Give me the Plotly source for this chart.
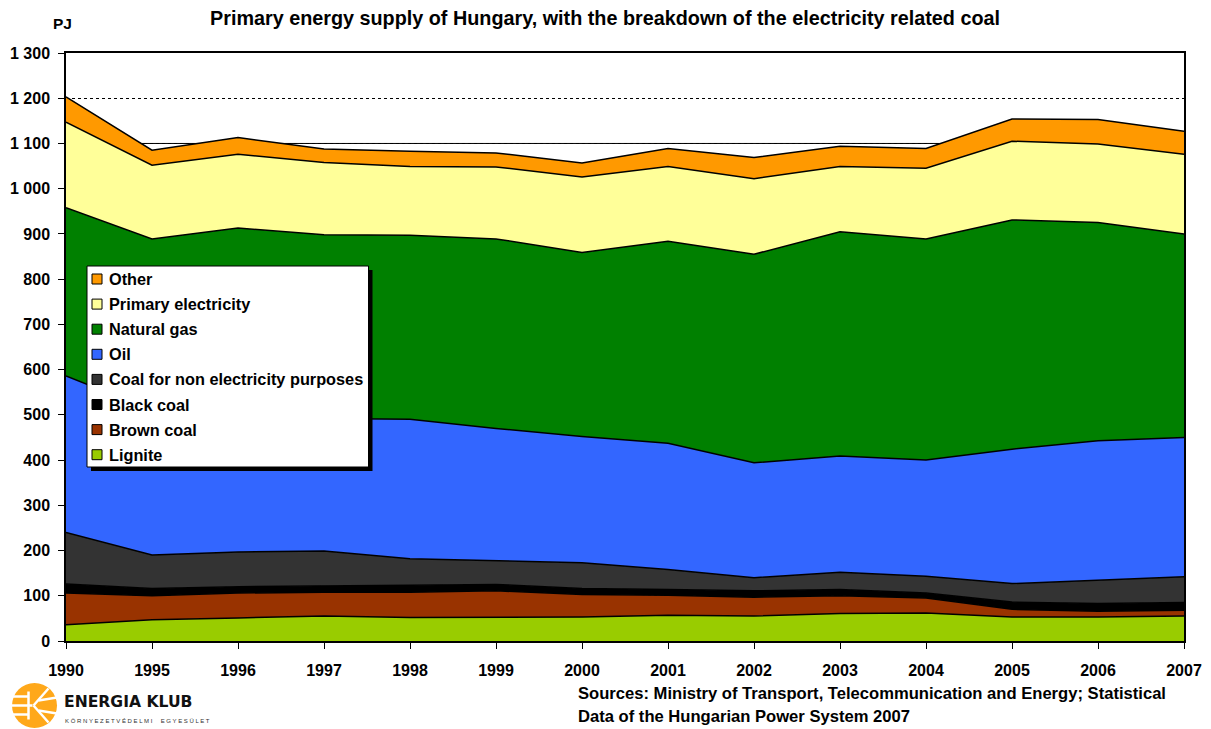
import plotly.graph_objects as go

years = ["1990", "1995", "1996", "1997", "1998", "1999", "2000", "2001",
         "2002", "2003", "2004", "2005", "2006", "2007"]

lignite = [36, 47, 51, 55, 52, 53, 53, 57, 55, 61, 62, 53, 53, 55]
brown_coal = [70, 53, 55, 53, 56, 58, 50, 44, 42, 39, 33, 17, 13, 13]
black_coal = [20, 16, 14, 13, 15, 14, 13, 13, 14, 14, 11, 16, 17, 17]
coal_non_elec = [114, 74, 77, 78, 59, 52, 57, 44, 29, 38, 37, 41, 51, 57]
oil = [346, 320, 303, 293, 308, 293, 279, 279, 254, 257, 257, 297, 309, 308]
natural_gas = [372, 379, 413, 406, 407, 419, 407, 447, 461, 496, 489, 507, 482, 450]
primary_electricity = [189, 163, 163, 160, 152, 159, 167, 165, 167, 144, 156, 174, 174, 176]
other = [56, 33, 37, 30, 34, 31, 31, 40, 47, 45, 44, 49, 54, 51]

series_names = ["Lignite", "Brown coal", "Black coal", "Coal for non electricity purposes",
                "Oil", "Natural gas", "Primary electricity", "Other"]
series_values = [lignite, brown_coal, black_coal, coal_non_elec, oil, natural_gas,
                 primary_electricity, other]
series_colors = ["#99CC00", "#993300", "#000000", "#333333", "#3366FF", "#008000",
                 "#FFFF99", "#FF9900"]

FONT = "Liberation Sans, Arial, Helvetica, sans-serif"

fig = go.Figure()
for name, vals, col in zip(series_names, series_values, series_colors):
    fig.add_trace(go.Scatter(
        x=years, y=vals, name=name, mode="lines", stackgroup="one",
        line=dict(color="#000000", width=1.5), fillcolor=col,
        showlegend=False, hoverinfo="x+y+name",
    ))

# page offset (body margin) compensation
OFF = 8
W, H = 1211 - OFF, 729 - OFF
# plot area in page pixels
PL, PR, PT, PB = 66, 1184, 53, 641
L, R, T, B = PL - OFF, PR - OFF, PT - OFF, PB - OFF
pw, ph = R - L, B - T


def px(x):
    return (x - PL) / pw


def py(y):
    return (PB - y) / ph


shapes = []
# solid gridline at 1100
shapes.append(dict(type="line", xref="paper", yref="y", x0=0, x1=1, y0=1100, y1=1100,
                   line=dict(color="#000000", width=1), layer="below"))

# manual legend: shadow, box, swatches
shapes.append(dict(type="rect", xref="paper", yref="paper",
                   x0=px(91), x1=px(372.5), y0=py(471), y1=py(270),
                   fillcolor="#000000", line=dict(width=0), layer="above"))
shapes.append(dict(type="rect", xref="paper", yref="paper",
                   x0=px(87), x1=px(368.5), y0=py(467), y1=py(266),
                   fillcolor="#FFFFFF", line=dict(color="#000000", width=1), layer="above"))

annotations = []
leg_y0, leg_dy = 279, 25.1
for i, idx in enumerate(reversed(range(len(series_names)))):
    cy = leg_y0 + i * leg_dy
    shapes.append(dict(type="rect", xref="paper", yref="paper",
                       x0=px(92), x1=px(102), y0=py(cy + 5), y1=py(cy - 5),
                       fillcolor=series_colors[idx], line=dict(color="#000000", width=1),
                       layer="above"))
    annotations.append(dict(text="<b>" + series_names[idx] + "</b>", xref="paper", yref="paper",
                            x=px(107), y=py(cy), xanchor="left", yanchor="middle",
                            showarrow=False,
                            font=dict(size=16.3, color="#000000", family=FONT)))

# logo
lcx, lcy, lr = 34.5, 705.5, 22.5
shapes.append(dict(type="circle", xref="paper", yref="paper",
                   x0=px(lcx - lr), x1=px(lcx + lr), y0=py(lcy + lr), y1=py(lcy - lr),
                   fillcolor="#FFA81A", line=dict(width=0)))
logo_lines = [
    (lcx - lr, lcy - 9, lcx - 6, lcy - 9),
    (lcx - lr, lcy, lcx - 2, lcy),
    (lcx - lr, lcy + 9, lcx - 6, lcy + 9),
    (lcx - 6, lcy - 14, lcx - 6, lcy + 14),
    (lcx - 1, lcy, lcx + 14, lcy - 17),
    (lcx - 1, lcy, lcx + 14, lcy + 17),
    (lcx + 4, lcy - 5, lcx + lr, lcy - 8),
    (lcx + 4, lcy + 5, lcx + lr, lcy + 8),
]
for x0, y0, x1, y1 in logo_lines:
    shapes.append(dict(type="line", xref="paper", yref="paper",
                       x0=px(x0), x1=px(x1), y0=py(y0), y1=py(y1),
                       line=dict(color="#FFFFFF", width=2.5)))

annotations += [
    dict(text="<b>Primary energy supply of Hungary, with the breakdown of the electricity related coal</b>",
         xref="paper", yref="paper", x=px(605), y=py(18), xanchor="center", yanchor="middle",
         showarrow=False, font=dict(size=19.8, color="#000000", family=FONT)),
    dict(text="<b>PJ</b>", xref="paper", yref="paper", x=px(51), y=py(24),
         xanchor="left", yanchor="middle", showarrow=False,
         font=dict(size=15.5, color="#000000", family=FONT)),
    dict(text="<b>Sources: Ministry of Transport, Telecommunication and Energy; Statistical</b>",
         xref="paper", yref="paper", x=px(576), y=py(693), xanchor="left", yanchor="middle",
         showarrow=False, font=dict(size=16.6, color="#000000", family=FONT)),
    dict(text="<b>Data of the Hungarian Power System 2007</b>",
         xref="paper", yref="paper", x=px(576), y=py(716), xanchor="left", yanchor="middle",
         showarrow=False, font=dict(size=16.6, color="#000000", family=FONT)),
    dict(text="<b>ENERGIA KLUB</b>",
         xref="paper", yref="paper", x=px(62), y=py(702), xanchor="left", yanchor="middle",
         showarrow=False, font=dict(size=15.6, color="#111111", family="DejaVu Sans, sans-serif")),
    dict(text="K Ö R N Y E Z E T V É D E L M I     E G Y E S Ü L E T",
         xref="paper", yref="paper", x=px(63), y=py(721), xanchor="left", yanchor="middle",
         showarrow=False, font=dict(size=6, color="#333333", family=FONT)),
]

fig.update_layout(
    width=W, height=H, autosize=False,
    margin=dict(l=L, r=W - R, t=T, b=H - B, pad=0, autoexpand=False),
    paper_bgcolor="#FFFFFF", plot_bgcolor="#FFFFFF",
    font=dict(family=FONT, size=16, color="#000000"),
    separators=". ",
    showlegend=False,
    shapes=shapes,
    annotations=annotations,
    hovermode="x",
)

fig.update_xaxes(
    type="category", range=[0, 13], automargin=False,
    showline=True, linecolor="#000000", linewidth=1.5, mirror=True,
    ticks="outside", ticklen=6, tickcolor="#000000", tickwidth=1,
    showgrid=False, zeroline=False, ticklabelstandoff=8,
    tickfont=dict(size=16, family=FONT, weight="bold"),
)
fig.update_yaxes(
    range=[0, 1300], dtick=100, tickformat=",d", automargin=False,
    showline=True, linecolor="#000000", linewidth=1.5, mirror=True,
    ticks="outside", ticklen=6, tickcolor="#000000", tickwidth=1,
    showgrid=True, gridcolor="#000000", gridwidth=0.7, griddash="dot",
    zeroline=False, ticklabelstandoff=5,
    tickfont=dict(size=16, family=FONT, weight="bold"),
)

fig.write_html("out.html")
